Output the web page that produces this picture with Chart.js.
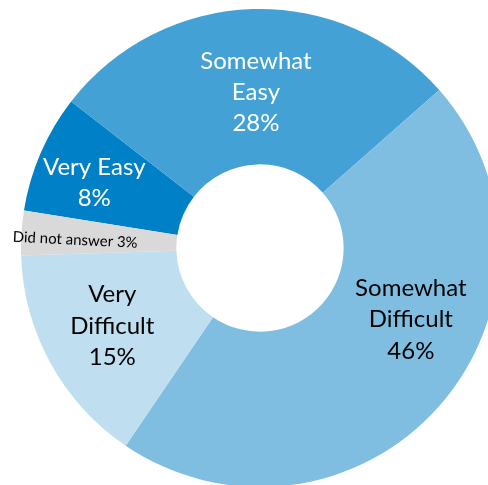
<!DOCTYPE html>
<html>
<head>
<meta charset="utf-8">
<script src="https://cdn.jsdelivr.net/npm/chart.js@4/dist/chart.umd.min.js"></script>
<style>
  html, body { margin: 0; padding: 0; background: #ffffff; }
  #wrap { position: relative; width: 488px; height: 485px; overflow: hidden; }
  #c { position: absolute; left: 0; top: 0; }
</style>
</head>
<body>
<div id="wrap"><canvas id="c" width="520" height="500"></canvas></div>
<script>
// Data
const categories = ["Very Easy", "Somewhat Easy", "Somewhat Difficult", "Very Difficult", "Did not answer"];
const values = [8, 28, 46, 15, 3];
const labelLines = [["Very Easy", "8%"], ["Somewhat", "Easy", "28%"], ["Somewhat", "Difficult", "46%"], ["Very", "Difficult", "15%"], ["Did not answer 3%"]];

// Styles (kept separate from data)
const colors = ["#0080C6", "#43A1D5", "#7FBEE1", "#BFDFF0", "#D9D9D9"];
const labelStyle = [
  { color: "#ffffff", size: 24, dAngle: -2, r: 178, tilt: 0 },
  { color: "#ffffff", size: 24, dAngle: 0.3, r: 156, tilt: 0 },
  { color: "#000000", size: 24, dAngle: -16, r: 167, tilt: 0 },
  { color: "#000000", size: 24, dAngle: 1, r: 167, tilt: 0 },
  { color: "#000000", size: 15, dAngle: -1.1, r: 185, tilt: 2.8 }
];

const labelPlugin = {
  id: "sliceLabels",
  afterDatasetsDraw(chart) {
    const ctx = chart.ctx;
    const meta = chart.getDatasetMeta(0);
    meta.data.forEach((arc, i) => {
      const p = arc.getProps(["x", "y", "startAngle", "endAngle"], true);
      const st = labelStyle[i];
      const mid = (p.startAngle + p.endAngle) / 2 + st.dAngle * Math.PI / 180;
      const x = p.x + st.r * Math.cos(mid);
      const y = p.y + st.r * Math.sin(mid);
      const lines = labelLines[i];
      const lh = st.size * 1.3;
      ctx.save();
      ctx.translate(x, y);
      ctx.rotate(st.tilt * Math.PI / 180);
      ctx.font = st.size + "px Lato";
      ctx.fillStyle = st.color;
      ctx.textAlign = "center";
      ctx.textBaseline = "middle";
      lines.forEach((t, k) => {
        ctx.fillText(t, 0, (k - (lines.length - 1) / 2) * lh);
      });
      ctx.restore();
    });
  }
};

new Chart(document.getElementById("c"), {
  type: "doughnut",
  data: {
    labels: categories,
    datasets: [{
      data: values,
      backgroundColor: colors,
      borderWidth: 0,
      hoverOffset: 0
    }]
  },
  options: {
    responsive: false,
    animation: false,
    rotation: -81,
    cutout: "35%",
    layout: { padding: { left: 21, top: 9, right: 21, bottom: 13 } },
    plugins: {
      legend: { display: false },
      tooltip: { enabled: false },
      title: { display: false }
    }
  },
  plugins: [labelPlugin]
});
</script>
</body>
</html>
